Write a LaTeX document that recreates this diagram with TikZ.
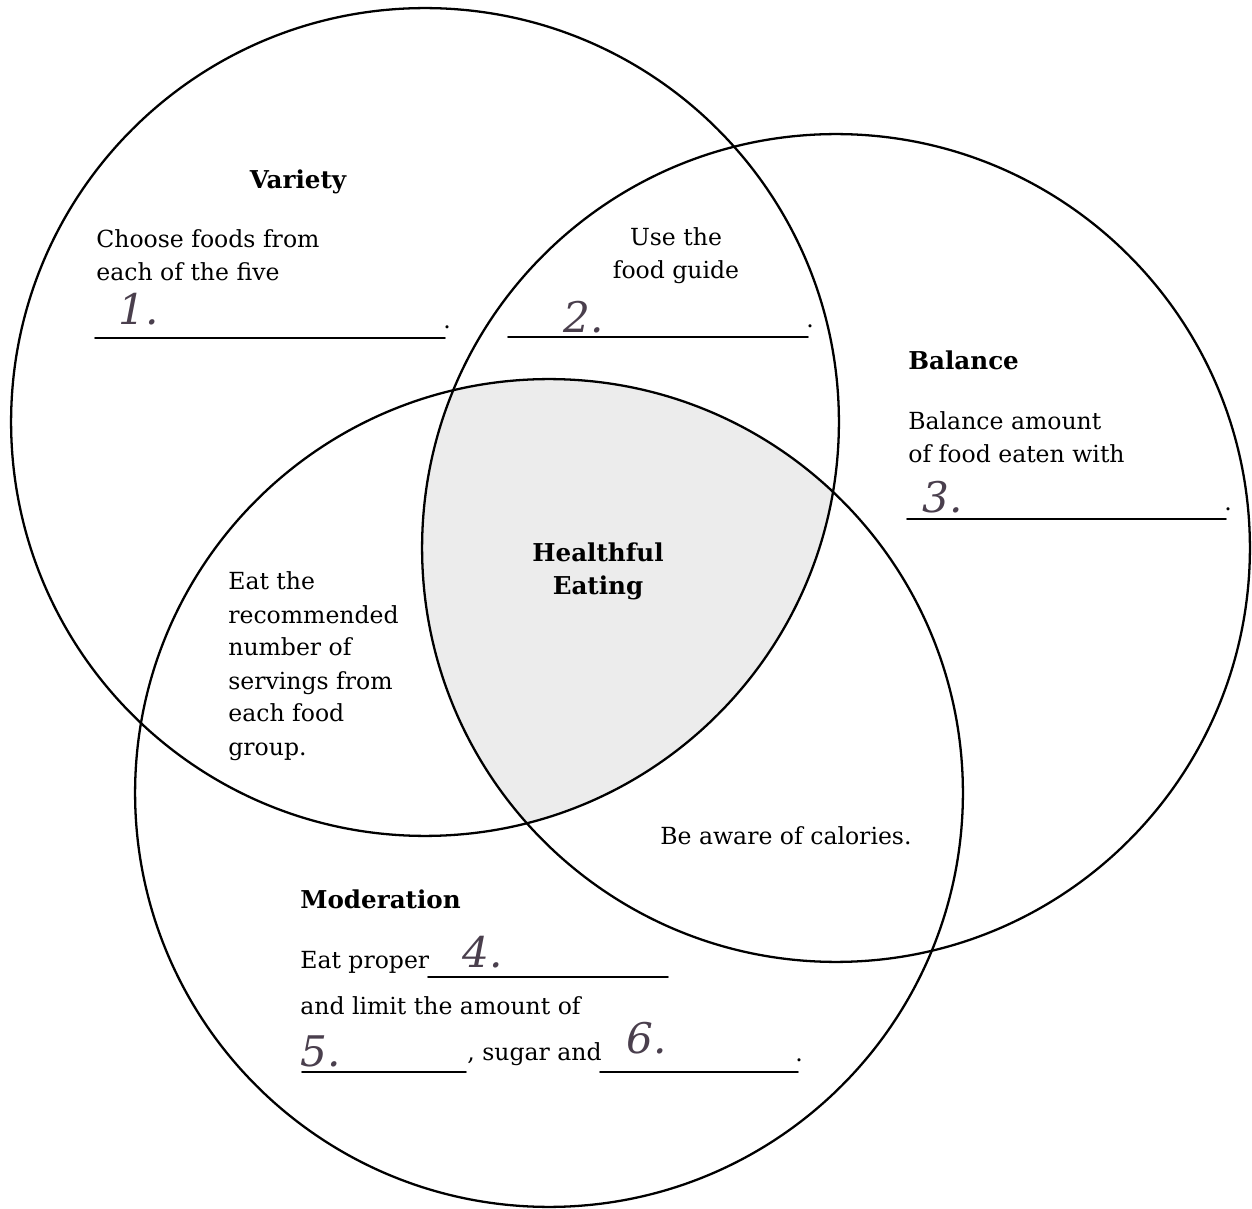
\documentclass[tikz,border=0pt]{standalone}
\usepackage{fontspec}
\setmainfont{DejaVu Serif}
\usetikzlibrary{positioning}
\definecolor{ink}{HTML}{4A3F4D}
\definecolor{paleshade}{HTML}{ECECEC}

\begin{document}
\begin{tikzpicture}[x=0.02cm, y=-0.02cm, line join=round, line cap=round,
    txt/.style={anchor=base west, inner sep=0pt, font=\fontsize{13.4}{16}\selectfont},
    head/.style={txt, font=\fontsize{14}{16}\selectfont\bfseries},
    hand/.style={anchor=base west, inner sep=0pt, text=ink, font=\fontsize{24}{24}\selectfont\itshape},
    blank/.style={line width=0.9pt},
    ring/.style={line width=1.3pt}]
    \useasboundingbox (0,0) rectangle (1252,1209);
    % 三个圆心
    \coordinate (V) at (425,422);
    \coordinate (B) at (836,548);
    \coordinate (M) at (549,793);

    % 公共部分着色
    \begin{scope}
        \clip (V) circle[radius=8.28cm];
        \clip (B) circle[radius=8.28cm];
        \fill[fill=paleshade] (M) circle[radius=8.28cm];
    \end{scope}

    % 圆
    \draw[ring] (V) circle[radius=8.28cm];
    \draw[ring] (B) circle[radius=8.28cm];
    \draw[ring] (M) circle[radius=8.28cm];

    % Variety
    \node[head, anchor=base] (variety) at (298,189) {Variety};
    \node[txt] (choose1) at (96,248) {Choose foods from};
    \node[txt] (choose2) at (96,281) {each of the five};
    \draw[blank] (95,338) -- (445,338);
    \node[txt] (dot1) at (443,329) {.};
    \node[hand] (ans1) at (118,325) {1.};

    % Variety & Balance
    \node[txt, anchor=base] (use1) at (676,246) {Use the};
    \node[txt, anchor=base] (use2) at (676,279) {food guide};
    \draw[blank] (508,337) -- (808,337);
    \node[txt] (dot2) at (806,328) {.};
    \node[hand] (ans2) at (563,333) {2.};

    % Balance
    \node[head] (balance) at (908,370) {Balance};
    \node[txt] (bal1) at (908,430) {Balance amount};
    \node[txt] (bal2) at (908,463) {of food eaten with};
    \draw[blank] (907,519) -- (1226,519);
    \node[txt] (dot3) at (1224,511) {.};
    \node[hand] (ans3) at (922,513) {3.};

    % 中间
    \node[head, anchor=base] (healthful) at (598,562) {Healthful};
    \node[head, anchor=base] (eating) at (598,595) {Eating};

    % Variety & Moderation
    \foreach \t [count=\i] in {Eat the, recommended, number of, servings from, each food, group.}
        \node[txt] (serve\i) at (228,557+33*\i) {\t};

    % Balance & Moderation
    \node[txt] (aware) at (660,844) {Be aware of calories.};

    % Moderation
    \node[head] (moderation) at (300,908) {Moderation};
    \node[txt] (proper) at (300,968) {Eat proper};
    \draw[blank] (428,977) -- (668,977);
    \node[hand] (ans4) at (462,967) {4.};
    \node[txt] (limit) at (300,1014) {and limit the amount of};
    \draw[blank] (302,1072) -- (466,1072);
    \node[hand] (ans5) at (300,1066) {5.};
    \node[txt] (sugar) at (467,1060) {, sugar and};
    \draw[blank] (600,1072) -- (798,1072);
    \node[txt] (dot6) at (795,1061) {.};
    \node[hand] (ans6) at (626,1053) {6.};
\end{tikzpicture}
\end{document}
